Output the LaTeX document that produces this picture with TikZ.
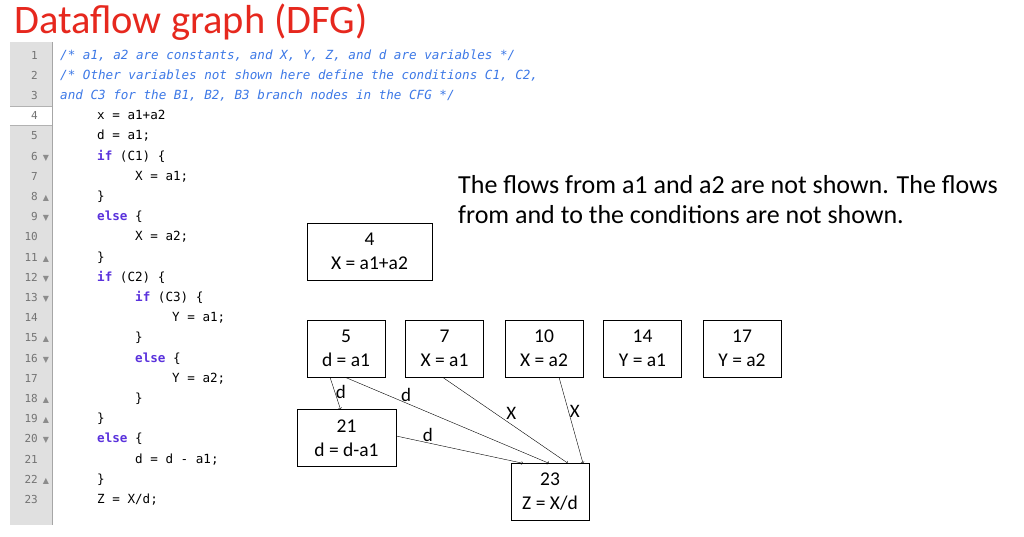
\documentclass[tikz,border=0pt]{standalone}
\usepackage{fontspec}
\setmainfont{Carlito}
\newfontfamily\codefont{DejaVu Sans Mono}
\newfontfamily\symfont{DejaVu Sans}
\usetikzlibrary{calc,positioning}
\definecolor{cmtblue}{RGB}{60,120,230}
\definecolor{kwpurple}{RGB}{90,50,220}
\definecolor{titlered}{RGB}{230,40,30}
\tikzset{
  stmt/.style={draw, thin, minimum width=78pt, minimum height=57pt, align=center, font=\fontsize{19.5}{24}\selectfont, inner sep=0pt},
  code/.style={anchor=base west, inner sep=0pt, font=\codefont\fontsize{12.6}{14}\selectfont},
  cmt/.style={code, text=cmtblue, font=\codefont\itshape\fontsize{12.6}{14}\selectfont},
  lnum/.style={anchor=base east, inner sep=0pt, text=black!55, font=\codefont\fontsize{11}{12}\selectfont},
  fold/.style={anchor=base, inner sep=0pt, text=black!45, font=\symfont\fontsize{8}{9}\selectfont},
  flow/.style={->, >=to, thin},
  lbl/.style={font=\fontsize{19}{20}\selectfont, inner sep=1pt},
  note/.style={anchor=base west, inner sep=0pt, font=\fontsize{26}{30}\selectfont},
}
\newcommand{\kw}[1]{\textcolor{kwpurple}{\bfseries #1}}
\begin{document}
\begin{tikzpicture}[x=1pt, y=-1pt]
\useasboundingbox (0,0) rectangle (1024,536);
% title
\node[anchor=base west, inner sep=0pt, text=titlered, font=\fontsize{40.5}{44}\selectfont] (title) at (14,33) {Dataflow graph (DFG)};
% gutter
\fill[black!12] (10,42) rectangle (52,525);
\fill[white] (10,106) rectangle (52,125);
\draw[black!30] (10,106) -- (52,106) (10,125) -- (52,125);
\draw[black!35] (52,42) -- (52,525);
% line numbers
\foreach \i in {1,...,23}
  \node[lnum] (ln\i) at (38,{59+(\i-1)*20.2}) {\i};
\foreach \i in {6,9,12,13,16,20}
  \node[fold] (fd\i) at (46,{59+(\i-1)*20.2}) {▼};
\foreach \i in {8,11,15,18,19,22}
  \node[fold] (fu\i) at (46,{59+(\i-1)*20.2}) {▲};
% code
\node[cmt] (c1) at (60,59) {/* a1, a2 are constants, and X, Y, Z, and d are variables */};
\node[cmt] (c2) at (60,79.2) {/* Other variables not shown here define the conditions C1, C2,};
\node[cmt] (c3) at (60,99.4) {and C3 for the B1, B2, B3 branch nodes in the CFG */};
\node[code] (c4) at (97,119.6) {x = a1+a2};
\node[code] (c5) at (97,139.8) {d = a1;};
\node[code] (c6) at (97,160) {\kw{if} (C1) \{};
\node[code] (c7) at (135,180.2) {X = a1;};
\node[code] (c8) at (97,200.4) {\}};
\node[code] (c9) at (97,220.6) {\kw{else} \{};
\node[code] (c10) at (135,240.8) {X = a2;};
\node[code] (c11) at (97,261) {\}};
\node[code] (c12) at (97,281.2) {\kw{if} (C2) \{};
\node[code] (c13) at (135,301.4) {\kw{if} (C3) \{};
\node[code] (c14) at (172,321.6) {Y = a1;};
\node[code] (c15) at (135,341.8) {\}};
\node[code] (c16) at (135,362) {\kw{else} \{};
\node[code] (c17) at (172,382.2) {Y = a2;};
\node[code] (c18) at (135,402.4) {\}};
\node[code] (c19) at (97,422.6) {\}};
\node[code] (c20) at (97,442.8) {\kw{else} \{};
\node[code] (c21) at (135,463) {d = d - a1;};
\node[code] (c22) at (97,483.2) {\}};
\node[code] (c23) at (97,503.4) {Z = X/d;};
% note
\node[note] (note1) at (458,193) {The flows from a1 and a2 are not shown. The flows};
\node[note] (note2) at (458,223) {from and to the conditions are not shown.};
% statement nodes
\node[stmt, minimum width=125pt] (s4) at (369.5,251.5) {4\\X = a1+a2};
\node[stmt] (s5) at (346,348.5) {5\\d = a1};
\node[stmt] (s7) at (444.5,348.5) {7\\X = a1};
\node[stmt] (s10) at (544,348.5) {10\\X = a2};
\node[stmt] (s14) at (642.5,348.5) {14\\Y = a1};
\node[stmt] (s17) at (742,348.5) {17\\Y = a2};
\node[stmt, minimum width=99pt] (s21) at (346.5,438) {21\\d = d-a1};
\node[stmt] (s23) at (550,492) {23\\Z = X/d};
% flows
\draw[flow] ([xshift=-16pt]s5.south) -- node[lbl, right, pos=0.45] {d} ([xshift=-6pt]s21.north);
\draw[flow] ([xshift=-1pt]s5.south) -- node[lbl, above, pos=0.3] {d} ([xshift=-1pt]s23.north);
\draw[flow] ([xshift=-2pt]s7.south) -- node[lbl, above right, pos=0.5] {X} ([xshift=18pt]s23.north);
\draw[flow] ([xshift=15pt]s10.south) -- node[lbl, right, pos=0.4] {X} ([xshift=33pt]s23.north);
\draw[flow] ([yshift=2pt]s21.east) -- node[lbl, above, pos=0.25] {d} ([xshift=-27pt]s23.north);
\end{tikzpicture}
\end{document}
